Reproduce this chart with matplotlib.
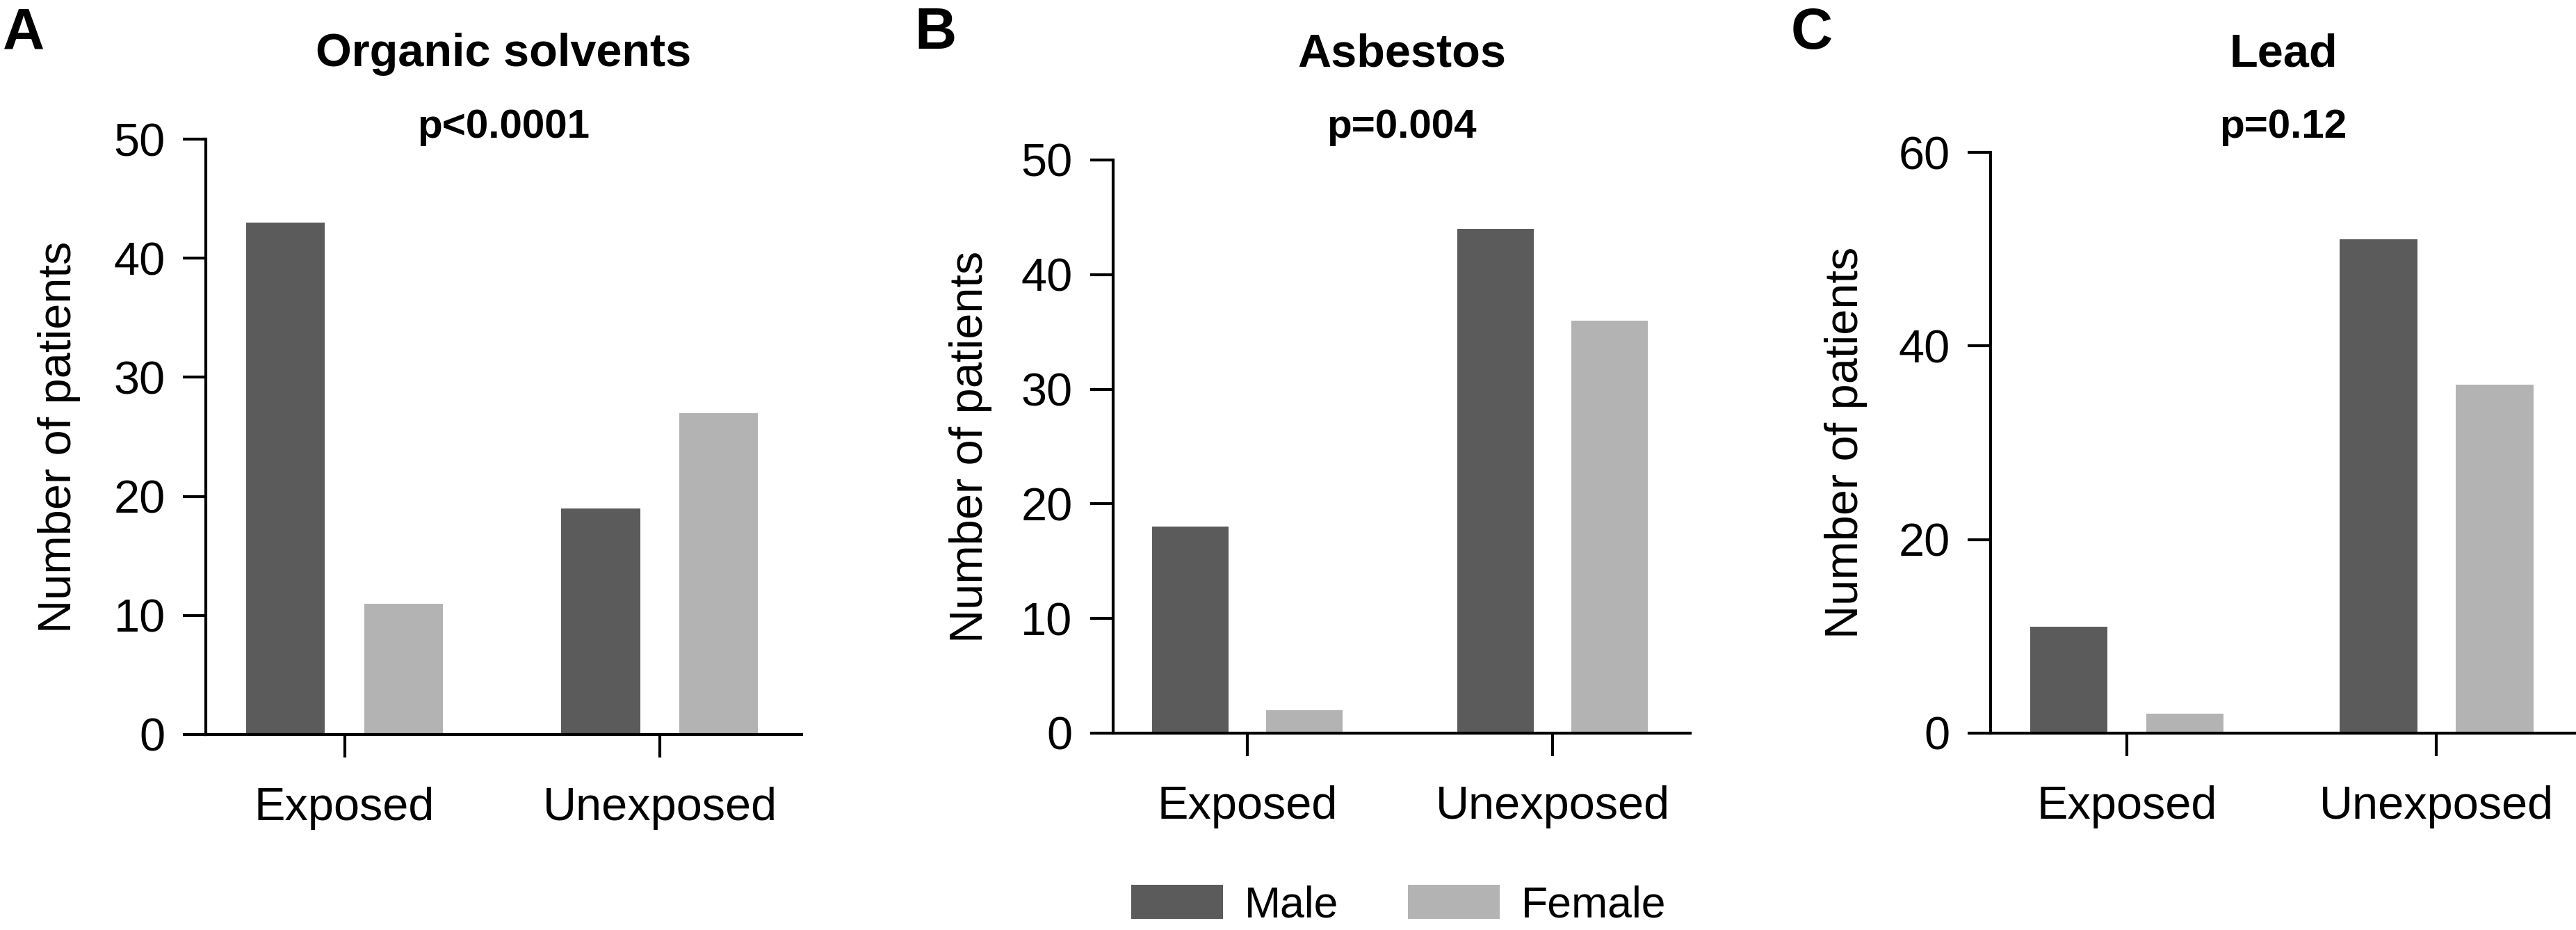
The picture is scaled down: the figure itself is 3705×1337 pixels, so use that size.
import matplotlib
matplotlib.use("Agg")
import matplotlib.pyplot as plt
import numpy as np
from matplotlib.patches import Patch

plt.rcParams["font.family"] = ["Liberation Sans", "DejaVu Sans"]

# Datos
categories = ["Exposed", "Unexposed"]
panel_letters = ["A", "B", "C"]
titles = ["Organic solvents", "Asbestos", "Lead"]
p_values = ["p<0.0001", "p=0.004", "p=0.12"]

male_solvents = [43, 19]
female_solvents = [11, 27]
male_asbestos = [18, 44]
female_asbestos = [2, 36]
male_lead = [11, 51]
female_lead = [2, 36]

y_max = [50, 50, 60]
y_step = [10, 10, 20]

male_color = "#5b5b5b"
female_color = "#b3b3b3"

# posicion de los ejes en fraccion de figura (left, bottom, width, height)
axes_rects = [
    [0.0799, 0.2102, 0.2313, 0.6402],
    [0.4321, 0.2117, 0.2240, 0.6163],
    [0.7727, 0.2117, 0.2273, 0.6245],
]
letter_x = [0.001, 0.3549, 0.6953]

fig = plt.figure(figsize=(3705 / 300, 1337 / 300), dpi=300, facecolor="white")

males = [male_solvents, male_asbestos, male_lead]
females = [female_solvents, female_asbestos, female_lead]

x = np.arange(len(categories))
width = 0.25
offset = 0.187

for i in range(3):
    ax = fig.add_axes(axes_rects[i])
    ax.bar(x - offset, males[i], width, color=male_color, edgecolor="none")
    ax.bar(x + offset, females[i], width, color=female_color, edgecolor="none")

    ax.set_xlim(-0.44, 1.45)
    ax.set_ylim(0, y_max[i])
    ax.set_yticks(np.arange(0, y_max[i] + 1, y_step[i]))
    ax.set_xticks(x)
    ax.set_xticklabels(categories)

    for side in ["top", "right"]:
        ax.spines[side].set_visible(False)
    for side in ["left", "bottom"]:
        ax.spines[side].set_linewidth(1.0)
        ax.spines[side].set_clip_on(False)

    ax.tick_params(axis="both", length=8, width=1.0, labelsize=16)
    ax.tick_params(axis="y", pad=6)
    ax.tick_params(axis="x", pad=10)

    ax.set_ylabel("Number of patients", fontsize=16)
    ax.yaxis.set_label_coords(-0.21, 0.5)

    # titulo y valor p centrados sobre cada panel
    cx = axes_rects[i][0] + axes_rects[i][2] / 2
    fig.text(cx, 0.9289, titles[i], ha="center", va="baseline",
             fontsize=16, fontweight="bold")
    fig.text(cx, 0.8519, p_values[i], ha="center", va="baseline",
             fontsize=14, fontweight="bold")
    fig.text(letter_x[i], 0.9476, panel_letters[i], ha="left", va="baseline",
             fontsize=20, fontweight="bold")

handles = [
    Patch(facecolor=male_color, edgecolor="none", label="Male"),
    Patch(facecolor=female_color, edgecolor="none", label="Female"),
]
fig.legend(
    handles=handles,
    loc="center",
    bbox_to_anchor=(0.543, 0.0265),
    ncol=2,
    frameon=False,
    fontsize=15,
    handlelength=2.1,
    handleheight=0.83,
    handletextpad=0.5,
    columnspacing=1.6,
    borderpad=0,
    borderaxespad=0,
)

fig.savefig("out.png", dpi=300, facecolor="white")
plt.close(fig)
